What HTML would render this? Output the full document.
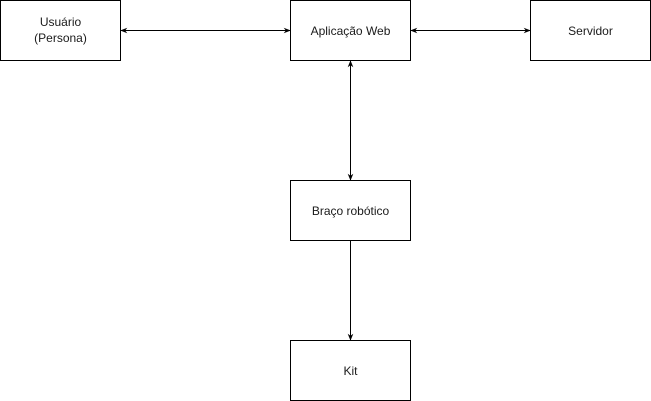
<!DOCTYPE html>
<html><head><meta charset="utf-8"><style>html,body{margin:0;padding:0;background:#fff}svg{display:block}</style></head>
<body>
<svg width="651" height="401" viewBox="0 0 651 401" xmlns="http://www.w3.org/2000/svg" font-family="Liberation Sans, Arial, sans-serif" font-size="12" fill="#000">
<defs>
<marker id="a" viewBox="0 0 10 10" refX="9" refY="5" markerWidth="7" markerHeight="7" orient="auto-start-reverse" markerUnits="userSpaceOnUse">
<path d="M0,1 L10,5 L0,9 L3,5 Z" fill="#000"/>
</marker>
</defs>
<g fill="#fff" stroke="#000" stroke-width="1">
<rect x="0.5" y="0.5" width="120" height="60"/>
<rect x="290.5" y="0.5" width="120" height="60"/>
<rect x="530.5" y="0.5" width="120" height="60"/>
<rect x="290.5" y="180.5" width="120" height="60"/>
<rect x="290.5" y="340.5" width="120" height="60"/>
</g>
<g stroke="#000" stroke-width="1" fill="none">
<line x1="121" y1="30.5" x2="290" y2="30.5" marker-start="url(#a)" marker-end="url(#a)"/>
<line x1="411" y1="30.5" x2="530" y2="30.5" marker-start="url(#a)" marker-end="url(#a)"/>
<line x1="350.5" y1="61" x2="350.5" y2="180" marker-start="url(#a)" marker-end="url(#a)"/>
<line x1="350.5" y1="241" x2="350.5" y2="340" marker-end="url(#a)"/>
</g>
<g text-anchor="middle" fill="#1a1a1a">
<text x="60.5" y="26">Usuário</text>
<text x="60.5" y="42">(Persona)</text>
<text x="350.5" y="35">Aplicação Web</text>
<text x="590.5" y="35">Servidor</text>
<text x="350.5" y="215">Braço robótico</text>
<text x="350.5" y="375">Kit</text>
</g>
</svg>
</body></html>
